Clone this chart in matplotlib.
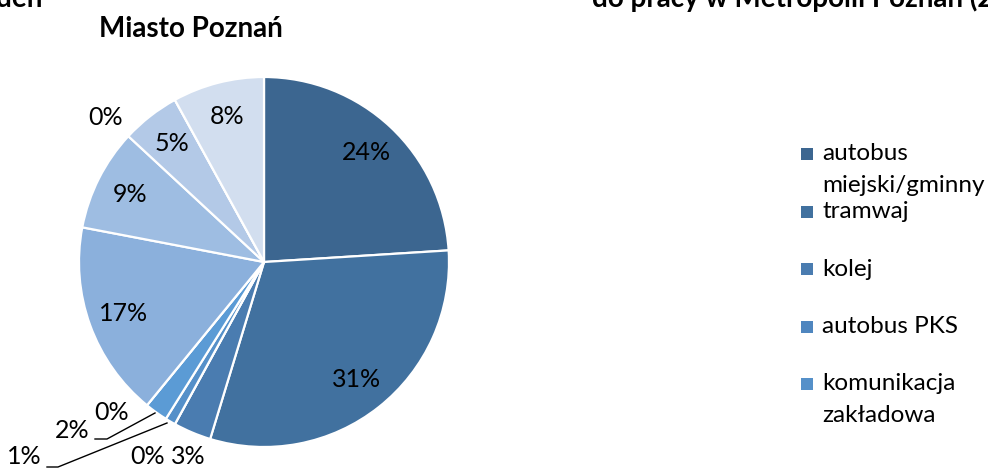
import numpy as np
import matplotlib
matplotlib.use("Agg")
import matplotlib.pyplot as plt
from matplotlib.patches import Rectangle

plt.rcParams['font.family'] = ['Lato', 'DejaVu Sans']

# Shares of commuting modes, clockwise from 12 o'clock (percent)
shares = [24.0, 30.7, 3.3, 0.0, 0.9, 2.0, 0.0, 17.1, 8.9, 5.1, 0.0, 8.0]
legend_names = ["autobus\nmiejski/gminny", "tramwaj", "kolej", "autobus PKS",
                "komunikacja\nzakładowa"]
title = "Miasto Poznań"

colors = ["#3c6690", "#41719f", "#4a7cb0", "#4f86bf", "#5590c9", "#5b9bd5",
          "#79a7da", "#8bb0dc", "#9ebde2", "#b3c9e7", "#bed1ea", "#d2deef"]

W, H = 988, 468
fig = plt.figure(figsize=(W / 100, H / 100), dpi=100)

cx, cy, R = 264, 262, 185
ax = fig.add_axes([(cx - R) / W, (H - cy - R) / H, 2 * R / W, 2 * R / H])
wedges, _ = ax.pie(shares, colors=colors, startangle=90, counterclock=False,
                   radius=1.0, wedgeprops=dict(edgecolor="white", linewidth=1.6))
ax.set_xlim(-1, 1)
ax.set_ylim(-1, 1)
ax.set_aspect("equal")
ax.axis("off")


def px(x, y):
    """Pixel position -> pie data coordinates."""
    return (x - cx) / R, (cy - y) / R


label_fs = 18
# Labels for wider slices sit at the wedge's mid-angle; narrow ones are placed aside
manual = {
    2: (188, 457),
    3: (148, 457),
    4: (24, 457),
    5: (72, 430),
    6: (112, 412),
    10: (106, 117),
}
leaders = {
    4: [(47, 467), (58, 467), (167, 423)],
    5: [(95, 439), (107, 439), (155, 413)],
}
for i, (w, v) in enumerate(zip(wedges, shares)):
    txt = f"{v:.0f}%"
    if i in manual:
        x, y = px(*manual[i])
    else:
        ang = np.deg2rad((w.theta1 + w.theta2) / 2)
        x, y = 0.81 * np.cos(ang), 0.81 * np.sin(ang)
    ax.text(x, y, txt, ha="center", va="center", fontsize=label_fs,
            color="black", clip_on=False)
    if i in leaders:
        pts = np.array([px(*p) for p in leaders[i]])
        ax.plot(pts[:, 0], pts[:, 1], color="black", lw=1.0, clip_on=False)

# Chart title
fig.text(191 / W, 1 - 29 / H, title, ha="center", va="center",
         fontsize=20, fontweight="bold")

# Neighbouring chart titles, partially cut at the top edge
fig.text(42 / W, 1 - 7 / H, "den", ha="right", va="baseline",
         fontsize=20, fontweight="bold")
fig.text(592 / W, 1 - 7 / H, "do pracy w Metropolii Poznań (2", ha="left",
         va="baseline", fontsize=20, fontweight="bold")

# Legend (first entries)
row_y = [154, 211.5, 269, 326.5, 384]
sq = 12
for name, col, y in zip(legend_names, colors, row_y):
    fig.add_artist(Rectangle(((801) / W, (H - y - sq / 2) / H), sq / W, sq / H,
                             transform=fig.transFigure, facecolor=col,
                             edgecolor="none"))
    lines = name.split("\n")
    for k, line in enumerate(lines):
        fig.text(822 / W, 1 - (y + 32 * k) / H, line, ha="left", va="center",
                 fontsize=17.5)

fig.savefig("out.png", dpi=100)
